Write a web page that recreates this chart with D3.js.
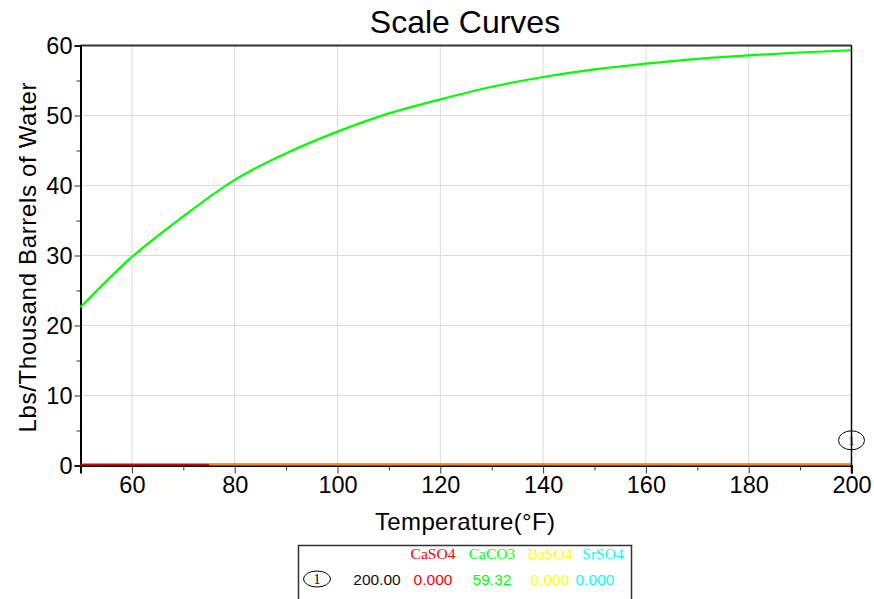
<!DOCTYPE html>
<html>
<head>
<meta charset="utf-8">
<script src="https://cdn.jsdelivr.net/npm/d3@7"></script>
<style>
  body { margin: 0; background: #fff; }
  svg { display: block; font-family: Arial, "Liberation Sans", sans-serif; }
</style>
</head>
<body>
<div id="app"></div>
<script>
// data
const temps   = [50, 60, 70, 80, 90, 100, 110, 120, 130, 140, 150, 160, 170, 180, 190, 200];
const caco3   = [22.6, 29.8, 35.6, 40.8, 44.6, 47.7, 50.3, 52.3, 54.1, 55.5, 56.6, 57.4, 58.1, 58.6, 59.0, 59.32];
const caso4   = temps.map(() => 0);
const baTemps = [75, 200];
const baso4   = [0, 0];
const xTicks  = [60, 80, 100, 120, 140, 160, 180, 200];
const yTicks  = [0, 10, 20, 30, 40, 50, 60];
const legendNames  = ['CaSO4', 'CaCO3', 'BaSO4', 'SrSO4'];
const legendValues = ['0.000', '59.32', '0.000', '0.000'];
const legendColors = ['#ff0000', '#00ff00', '#ffff00', '#00ffff'];
const selectedTemp = 200;

const width = 874, height = 599;
const margin = { left: 80.5, right: 874 - 851.5, top: 45.5, bottom: 599 - 465.5 };

const svg = d3.select('#app').append('svg')
  .attr('width', width)
  .attr('height', height);

const x = d3.scaleLinear().domain([50, 200]).range([margin.left, width - margin.right]);
const y = d3.scaleLinear().domain([0, 60]).range([height - margin.bottom, margin.top]);

// grid
svg.append('g')
  .selectAll('line')
  .data(xTicks)
  .join('line')
  .attr('x1', d => x(d)).attr('x2', d => x(d))
  .attr('y1', y(0)).attr('y2', y(60))
  .attr('stroke', '#dcdcdc');

svg.append('g')
  .selectAll('line')
  .data(yTicks)
  .join('line')
  .attr('x1', x(50)).attr('x2', x(200))
  .attr('y1', d => y(d)).attr('y2', d => y(d))
  .attr('stroke', '#dcdcdc');

// top border
svg.append('line')
  .attr('x1', x(50)).attr('x2', x(200))
  .attr('y1', y(60)).attr('y2', y(60))
  .attr('stroke', '#333').attr('stroke-width', 2);

// axes
const xAxis = svg.append('g')
  .attr('transform', `translate(0,${y(0)})`)
  .call(d3.axisBottom(x).tickValues(xTicks).tickSize(8).tickPadding(3));
svg.append('g')
  .attr('transform', `translate(0,${y(0)})`)
  .call(d3.axisBottom(x).tickValues(d3.range(70, 200, 20)).tickSize(5).tickFormat(''))
  .call(g => g.select('.domain').remove());

const yAxis = svg.append('g')
  .attr('transform', `translate(${x(50)},0)`)
  .call(d3.axisLeft(y).tickValues(yTicks).tickSize(6).tickPadding(2));
svg.append('g')
  .attr('transform', `translate(${x(50)},0)`)
  .call(d3.axisLeft(y).tickValues(d3.range(5, 60, 10)).tickSize(4).tickFormat(''))
  .call(g => g.select('.domain').remove());

[xAxis, yAxis].forEach(g => {
  g.select('.domain').attr('stroke', '#000').attr('stroke-width', 2);
  g.selectAll('.tick text')
    .attr('fill', '#000')
    .style('font-size', '23.5px')
    .style('font-family', 'Arial, "Liberation Sans", sans-serif');
});
svg.selectAll('.tick line').attr('stroke', '#333');

// series
const line = d3.line()
  .x(d => x(d[0]))
  .y(d => y(d[1]))
  .curve(d3.curveMonotoneX);

svg.append('path')
  .datum(d3.zip(temps, caso4))
  .attr('d', line)
  .attr('fill', 'none')
  .attr('stroke', '#e00000')
  .attr('stroke-width', 2)
  .attr('transform', 'translate(0,-1)');

svg.append('path')
  .datum(d3.zip(baTemps, baso4))
  .attr('d', line)
  .attr('fill', 'none')
  .attr('stroke', '#ffb000')
  .attr('stroke-opacity', 0.8)
  .attr('stroke-width', 2)
  .attr('transform', 'translate(0,-1)');

svg.append('path')
  .datum(d3.zip(temps, caco3))
  .attr('d', line)
  .attr('fill', 'none')
  .attr('stroke', '#00ff00')
  .attr('stroke-width', 2.2);

// selected temperature marker
svg.append('line')
  .attr('x1', x(selectedTemp)).attr('x2', x(selectedTemp))
  .attr('y1', y(60)).attr('y2', y(0) + 8)
  .attr('stroke', '#000').attr('stroke-width', 1.5);

svg.append('ellipse')
  .attr('cx', x(selectedTemp)).attr('cy', y(3.6))
  .attr('rx', 13).attr('ry', 9.5)
  .attr('fill', 'none').attr('stroke', '#000');
svg.append('text')
  .attr('x', x(selectedTemp)).attr('y', y(3.6))
  .attr('dy', '0.35em')
  .attr('text-anchor', 'middle')
  .style('font-family', '"Liberation Serif", serif')
  .style('font-size', '13px')
  .text('1');

// titles
svg.append('text')
  .attr('x', 465).attr('y', 33)
  .attr('text-anchor', 'middle')
  .style('font-size', '32px')
  .text('Scale Curves');

svg.append('text')
  .attr('x', 465).attr('y', 530)
  .attr('text-anchor', 'middle')
  .style('font-size', '24px')
  .attr('textLength', 180)
  .text('Temperature(°F)');

svg.append('text')
  .attr('transform', `translate(36,${(y(0) + y(60)) / 2 + 2}) rotate(-90)`)
  .attr('text-anchor', 'middle')
  .style('font-size', '24px')
  .attr('textLength', 350)
  .text('Lbs/Thousand Barrels of Water');

// legend table
const lg = svg.append('g');
lg.append('path')
  .attr('d', 'M298.5,600 V545.5 H631.5 V600')
  .attr('fill', 'none')
  .attr('stroke', '#333')
  .attr('stroke-width', 1.5);

const colX = [433, 492, 550, 603];
lg.selectAll('text.head')
  .data(legendNames)
  .join('text')
  .attr('class', 'head')
  .attr('x', (d, i) => colX[i])
  .attr('y', 559)
  .attr('text-anchor', 'middle')
  .attr('fill', (d, i) => legendColors[i])
  .style('font-family', '"Liberation Serif", "Times New Roman", serif')
  .style('font-size', '15.5px')
  .text(d => d);

lg.selectAll('text.val')
  .data(legendValues)
  .join('text')
  .attr('class', 'val')
  .attr('x', (d, i) => colX[i] - (i === 3 ? 8 : 0))
  .attr('y', 585)
  .attr('text-anchor', 'middle')
  .attr('fill', (d, i) => legendColors[i])
  .style('font-size', '15.5px')
  .text(d => d);

lg.append('text')
  .attr('x', 377).attr('y', 585)
  .attr('text-anchor', 'middle')
  .attr('fill', '#111')
  .style('font-size', '15.5px')
  .text(d3.format('.2f')(selectedTemp));

lg.append('ellipse')
  .attr('cx', 317).attr('cy', 579)
  .attr('rx', 13.5).attr('ry', 8)
  .attr('fill', 'none').attr('stroke', '#000');
lg.append('text')
  .attr('x', 317).attr('y', 579)
  .attr('dy', '0.35em')
  .attr('text-anchor', 'middle')
  .style('font-family', '"Liberation Serif", serif')
  .style('font-size', '14px')
  .text('1');
</script>
</body>
</html>
